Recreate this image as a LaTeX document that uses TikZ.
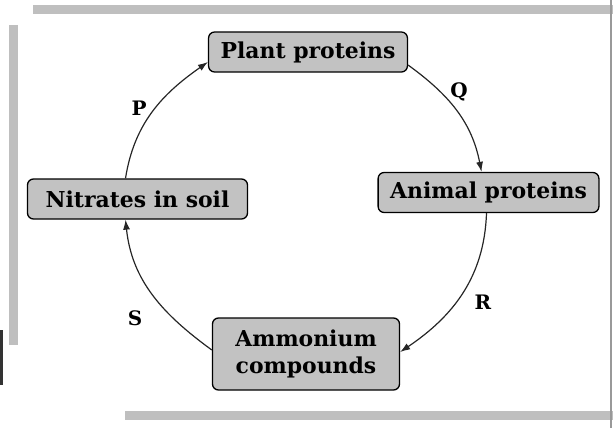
\documentclass[tikz,border=0pt]{standalone}
\usepackage{fontspec}
\setmainfont{DejaVu Serif}
\usetikzlibrary{arrows.meta}
\begin{document}
\begin{tikzpicture}[x=1bp,y=1bp,
  pool/.style={draw=black,line width=1.3bp,fill=black!24,rounded corners=6bp,
    font=\bfseries\fontsize{22}{27}\selectfont,inner xsep=12bp,
    minimum height=40bp,align=center},
  flow/.style={draw=black!85,line width=1.2bp,-{Latex[length=10bp,width=7bp]}},
  tag/.style={font=\bfseries\fontsize{20}{24}\selectfont},
  scanedge/.style={draw=black!25,line width=9bp}]
  \useasboundingbox (0,0) rectangle (613,428);
  \draw[scanedge] (33,418) -- (613,418);
  \draw[scanedge] (13,403) -- (13,83);
  \draw[scanedge] (125,13) -- (613,13);
  \draw[draw=black!40,line width=1.5bp] (611,428) -- (611,0);
  \draw[draw=black!80,line width=3bp] (1.5,98) -- (1.5,43);
  \node[pool] (plant) at (308,376) {Plant proteins};
  \node[pool,minimum width=220bp] (nitrate) at (137.5,229) {Nitrates in soil};
  \node[pool] (animal) at (488.5,235.5) {Animal proteins};
  \node[pool,minimum height=72bp,minimum width=187bp] (ammon) at (306,74)
    {Ammonium\\compounds};
  \draw[flow] ([xshift=-12bp]nitrate.north) to[out=81,in=215]
    ([yshift=-10bp]plant.west);
  \draw[flow] ([yshift=-13bp]plant.east) to[out=-36,in=101]
    ([xshift=-7bp]animal.north);
  \draw[flow] ([xshift=-2bp]animal.south) to[out=-92,in=34]
    ([yshift=2bp]ammon.east);
  \draw[flow] ([yshift=4bp]ammon.west) to[out=144,in=-84]
    ([xshift=-12bp]nitrate.south);
  \node[tag] (lblP) at (139,320) {P};
  \node[tag] (lblQ) at (459,336) {Q};
  \node[tag] (lblR) at (483,126) {R};
  \node[tag] (lblS) at (135,110) {S};
\end{tikzpicture}
\end{document}
